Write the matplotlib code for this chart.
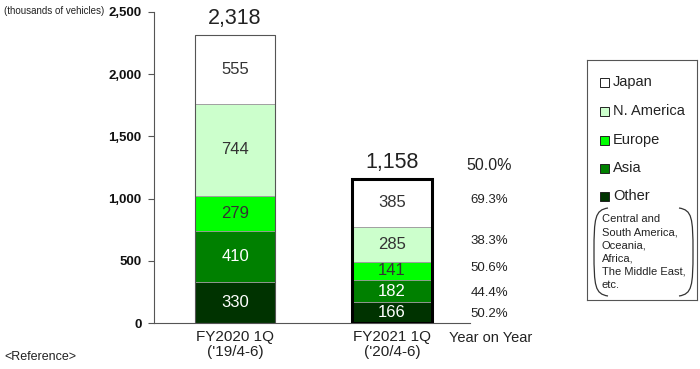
import matplotlib.pyplot as plt
from matplotlib.patches import Rectangle, PathPatch
from matplotlib.path import Path

plt.rcParams["font.family"] = ["Liberation Sans Narrow", "Liberation Sans", "DejaVu Sans"]

periods = ["FY2020 1Q\n('19/4-6)", "FY2021 1Q\n('20/4-6)"]
regions = ["Japan", "N. America", "Europe", "Asia", "Other"]
colors = ["#ffffff", "#ccffcc", "#00ff00", "#008000", "#003300"]
text_colors = ["#333333", "#333333", "#333333", "#ffffff", "#ffffff"]

# values in thousands of vehicles
fy2020 = {"Japan": 555, "N. America": 744, "Europe": 279, "Asia": 410, "Other": 330}
fy2021 = {"Japan": 385, "N. America": 285, "Europe": 141, "Asia": 182, "Other": 166}
totals = [2318, 1158]
yoy_total = "50.0%"
yoy = {"Japan": "69.3%", "N. America": "38.3%", "Europe": "50.6%", "Asia": "44.4%", "Other": "50.2%"}

fig = plt.figure(figsize=(7.0, 3.69), dpi=100)
ax = fig.add_axes([154 / 700, 1 - 323 / 369, 316 / 700, 311 / 369])

stack_order = ["Other", "Asia", "Europe", "N. America", "Japan"]
width = 0.51
for i, data in enumerate([fy2020, fy2021]):
    bottom = 0
    for reg in stack_order:
        c = colors[regions.index(reg)]
        tc = text_colors[regions.index(reg)]
        ax.bar(i, data[reg], width=width, bottom=bottom, color=c,
               edgecolor="#999999", linewidth=0.6, zorder=2)
        ax.text(i, bottom + data[reg] / 2, str(data[reg]), ha="center", va="center",
                fontsize=12, color=tc, zorder=4)
        bottom += data[reg]
    # outline of whole bar
    lw = 0.8 if i == 0 else 2.2
    ec = "#555555" if i == 0 else "black"
    ax.bar(i, totals[i], width=width, fill=False, edgecolor=ec, linewidth=lw, zorder=3)
    ax.text(i, totals[i] + 45, f"{totals[i]:,}", ha="center", va="bottom",
            fontsize=15.5, color="#222222")

# year on year column
xr = 1.62
ax.text(xr, totals[1] + 45, yoy_total, ha="center", va="bottom", fontsize=11.5, color="#222222",
        clip_on=False)
yoy_y = {"Japan": 985, "N. America": 660, "Europe": 445, "Asia": 245, "Other": 75}
for reg in regions:
    ax.text(xr, yoy_y[reg], yoy[reg], ha="center", va="center", fontsize=9.5,
            color="#222222", clip_on=False)

ax.set_xlim(-0.516, 1.497)
ax.set_ylim(0, 2500)
ax.set_yticks([0, 500, 1000, 1500, 2000, 2500])
ax.set_yticklabels([f"{v:,}" for v in [0, 500, 1000, 1500, 2000, 2500]],
                   fontsize=9.5, fontweight="bold", color="#111111")
ax.set_xticks([0, 1])
ax.set_xticklabels(periods, fontsize=11, color="#222222", linespacing=1.1)
ax.tick_params(axis="x", length=0, pad=5)
ax.tick_params(axis="y", length=4, width=0.8, color="#555555", pad=5)
for s in ["top", "right"]:
    ax.spines[s].set_visible(False)
for s in ["left", "bottom"]:
    ax.spines[s].set_color("#555555")
    ax.spines[s].set_linewidth(0.8)

fig.text(491 / 700, 1 - 338 / 369, "Year on Year", ha="center", va="center",
         fontsize=10.5, color="#222222")
fig.text(4 / 700, 1 - 11 / 369, "(thousands of vehicles)", ha="left", va="center",
         fontsize=7, color="#222222")
fig.text(4 / 700, 1 - 357 / 369, "<Reference>", ha="left", va="center",
         fontsize=9, color="#222222")

# legend box drawn in pixel units
lg = fig.add_axes([587 / 700, 1 - 300 / 369, 110 / 700, 240 / 369])
lg.set_xlim(0, 110)
lg.set_ylim(240, 0)
lg.set_xticks([])
lg.set_yticks([])
for s in lg.spines.values():
    s.set_color("#555555")
    s.set_linewidth(0.8)
leg_y = [22, 51, 80, 108, 136]
for reg, c, y in zip(regions, colors, leg_y):
    lg.add_patch(Rectangle((13, y - 4.5), 9, 9, facecolor=c, edgecolor="#222222", linewidth=0.7))
    lg.text(26, y, reg, ha="left", va="center", fontsize=10.5, color="#222222")

# bracket around the note
top, bot = 148, 236
for x0, d in [(7, 1), (106, -1)]:
    verts = [(x0 + 14 * d, top), (x0 + 1 * d, top + 2), (x0, top + 10),
             (x0, (top + bot) / 2), (x0, bot - 10), (x0 + 1 * d, bot - 2),
             (x0 + 14 * d, bot)]
    codes = [Path.MOVETO, Path.CURVE4, Path.CURVE4, Path.CURVE4,
             Path.CURVE4, Path.CURVE4, Path.CURVE4]
    lg.add_patch(PathPatch(Path(verts, codes), fill=False, edgecolor="#333333", linewidth=0.9))
note = "Central and\nSouth America,\nOceania,\nAfrica,\nThe Middle East,\netc."
lg.text(15, 192, note, ha="left", va="center", fontsize=8, color="#222222", linespacing=1.4)

fig.savefig("out.png", dpi=100)
